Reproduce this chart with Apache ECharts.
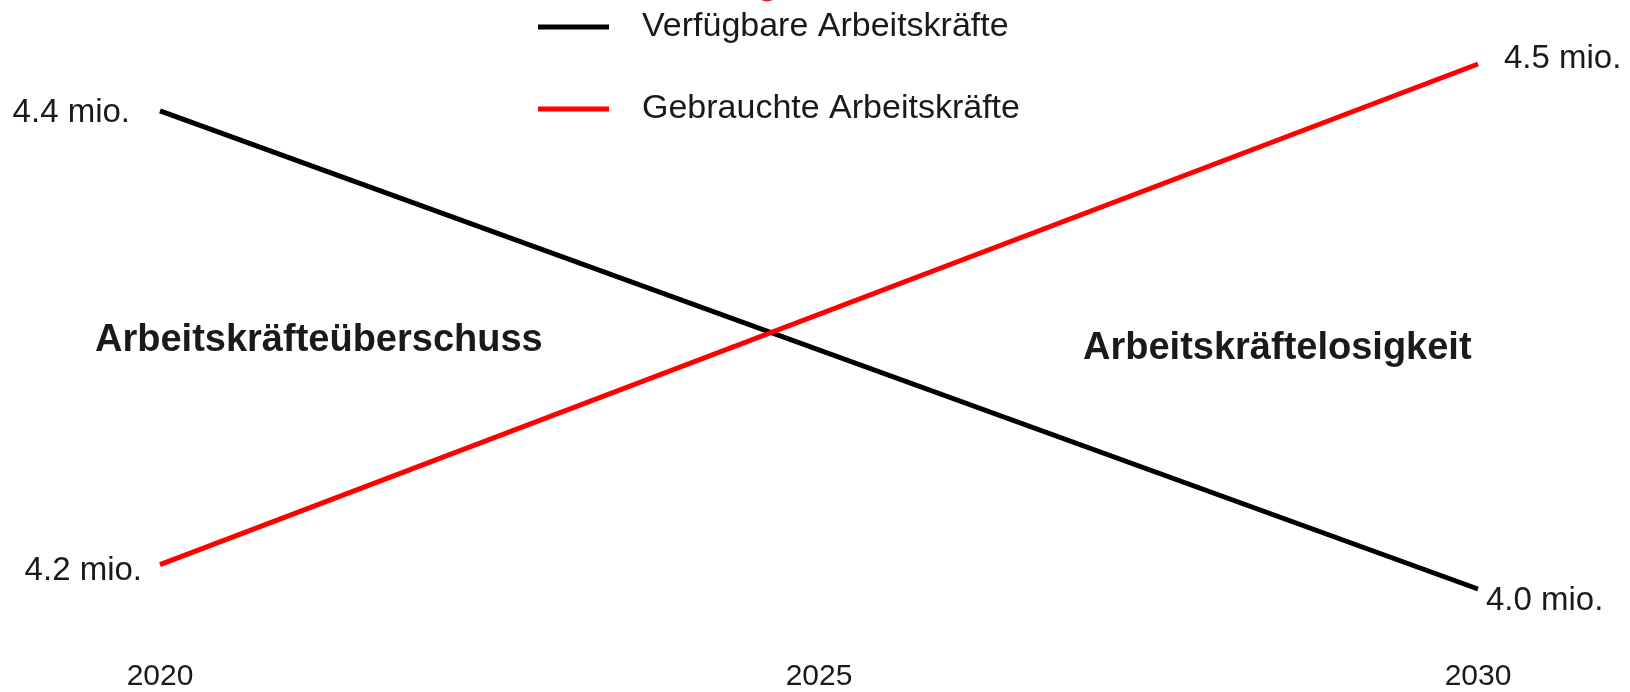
<!DOCTYPE html>
<html>
<head>
<meta charset="utf-8">
<script src="https://cdn.jsdelivr.net/npm/echarts@6/dist/echarts.min.js"></script>
<style>
  html, body { margin: 0; padding: 0; background: #fff; }
  #main { width: 1630px; height: 692px; }
</style>
</head>
<body>
<div id="main"></div>
<script>
// data
const years = [2020, 2030];
const verfuegbar = [4.4, 4.0];   // Verfügbare Arbeitskräfte (mio.)
const gebraucht = [4.2, 4.5];    // Gebrauchte Arbeitskräfte (mio.)
const seriesNames = ['Verfügbare Arbeitskräfte', 'Gebrauchte Arbeitskräfte'];

const FONT = '"Liberation Sans", Arial, sans-serif';
const TXT = '#1a1a1a';

// endpunkte mit beschriftung links/rechts
function makeData(vals, leftDist, leftOffset, rightDist, rightOffset) {
  return vals.map(function (v, i) {
    const first = i === 0;
    return {
      value: [years[i], v],
      label: {
        show: true,
        position: first ? 'left' : 'right',
        distance: first ? leftDist : rightDist,
        offset: first ? leftOffset : rightOffset
      }
    };
  });
}

const labelStyle = {
  show: true,
  formatter: function (p) { return p.value[1].toFixed(1) + ' mio.'; },
  fontFamily: FONT,
  fontSize: 33,
  color: TXT
};

const chart = echarts.init(document.getElementById('main'), null, { renderer: 'canvas' });

const option = {
  animation: false,
  backgroundColor: '#fff',
  legend: {
    orient: 'vertical',
    left: 533,
    top: 4,
    itemWidth: 71,
    itemHeight: 5,
    itemGap: 46,
    icon: 'rect',
    data: [seriesNames[0], seriesNames[1]],
    textStyle: {
      fontFamily: FONT,
      fontSize: 34,
      color: TXT,
      lineHeight: 36,
      padding: [0, 0, 0, 28]
    }
  },
  grid: { left: 160, right: 152, top: 64, height: 538 },
  xAxis: {
    type: 'value',
    min: 2020,
    max: 2030,
    interval: 5,
    axisLine: { show: false },
    axisTick: { show: false },
    splitLine: { show: false },
    axisLabel: {
      margin: 73,
      fontFamily: FONT,
      fontSize: 30,
      color: TXT,
      formatter: function (v) { return String(v); }
    }
  },
  yAxis: [
    { type: 'value', min: 4.0, max: 4.4392, show: false, splitLine: { show: false } },
    { type: 'value', min: 4.1854, max: 4.5, show: false, splitLine: { show: false } }
  ],
  series: [
    {
      name: seriesNames[0],
      type: 'line',
      yAxisIndex: 0,
      data: makeData(verfuegbar, 30, [0, 2], 8, [0, 12]),
      symbol: 'circle',
      symbolSize: 0,
      showSymbol: true,
      lineStyle: { color: '#000', width: 5 },
      itemStyle: { color: '#000' },
      label: labelStyle
    },
    {
      name: seriesNames[1],
      type: 'line',
      yAxisIndex: 1,
      data: makeData(gebraucht, 18, [0, 6], 26, [0, -5]),
      symbol: 'circle',
      symbolSize: 0,
      showSymbol: true,
      lineStyle: { color: '#ff0000', width: 5 },
      itemStyle: { color: '#ff0000' },
      label: labelStyle
    }
  ],
  graphic: [
    {
      type: 'text',
      left: 95,
      top: 322,
      style: {
        text: 'Arbeitskräfteüberschuss',
        font: 'bold 38px ' + FONT,
        fill: TXT
      }
    },
    {
      type: 'text',
      left: 1083,
      top: 330,
      style: {
        text: 'Arbeitskräftelosigkeit',
        font: 'bold 38px ' + FONT,
        fill: TXT
      }
    },
    {
      // angeschnittener roter kreis oben
      type: 'circle',
      shape: { cx: 767, cy: -10.5, r: 12 },
      style: { fill: '#e02020' }
    }
  ]
};

chart.setOption(option);
</script>
</body>
</html>
